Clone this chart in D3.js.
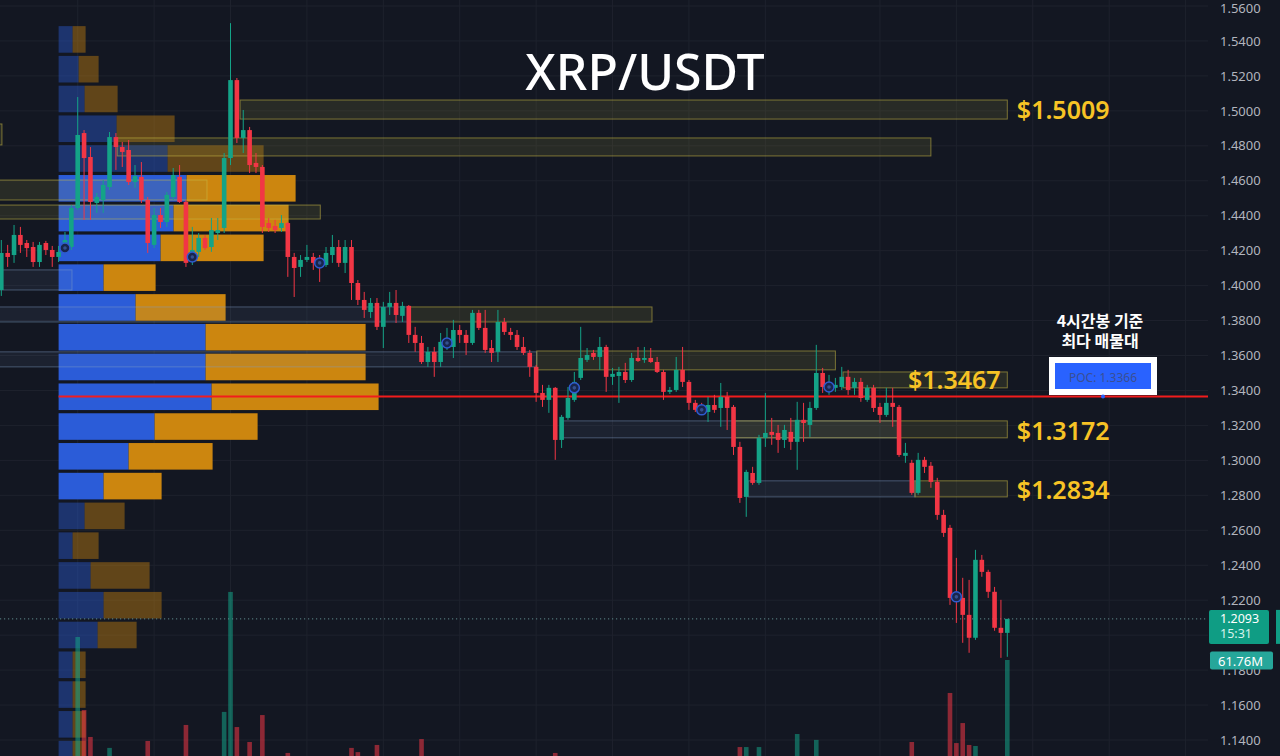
<!DOCTYPE html>
<html><head><meta charset="utf-8">
<script src="https://cdn.jsdelivr.net/npm/d3@7"></script>
<style>html,body{margin:0;padding:0;background:#131722;overflow:hidden}</style>
</head><body><svg id="c" width="1280" height="756"></svg>
<script>
// ---------- DATA ----------
const opens = [1.3975,1.4187,1.4175,1.4290,1.4244,1.4221,1.4135,1.4244,1.4204,1.4164,1.4204,1.4221,1.4444,1.4873,1.4736,1.4473,1.4490,1.4564,1.4850,1.4793,1.4776,1.4593,1.4622,1.4490,1.4233,1.4404,1.4364,1.4507,1.4622,1.4479,1.4164,1.4193,1.4273,1.4221,1.4301,1.4330,1.4730,1.5176,1.4845,1.4890,1.4702,1.4679,1.4358,1.4341,1.4330,1.4358,1.4164,1.4107,1.4147,1.4164,1.4135,1.4118,1.4175,1.4221,1.4130,1.4221,1.4015,1.3918,1.3849,1.3901,1.3764,1.3878,1.3901,1.3827,1.3884,1.3718,1.3672,1.3563,1.3621,1.3563,1.3661,1.3649,1.3746,1.3718,1.3672,1.3844,1.3758,1.3643,1.3621,1.3792,1.3735,1.3718,1.3649,1.3615,1.3535,1.3386,1.3346,1.3415,1.3117,1.3243,1.3346,1.3472,1.3575,1.3615,1.3592,1.3649,1.3478,1.3483,1.3506,1.3460,1.3586,1.3575,1.3586,1.3563,1.3506,1.3392,1.3403,1.3518,1.3449,1.3329,1.3300,1.3277,1.3317,1.3300,1.3363,1.3306,1.3077,1.2791,1.2928,1.2871,1.3129,1.3163,1.3157,1.3117,1.3163,1.3106,1.3232,1.3203,1.3300,1.3500,1.3403,1.3415,1.3420,1.3478,1.3415,1.3449,1.3346,1.3415,1.3306,1.3260,1.3329,1.3306,1.3026,1.2986,1.2814,1.3003,1.2969,1.2877,1.2688,1.2614,1.2225,1.2213,1.2116,1.1985,1.2431,1.2362,1.2248,1.2042,1.2013];
const highs = [1.4261,1.4233,1.4347,1.4336,1.4261,1.4250,1.4250,1.4256,1.4227,1.4227,1.4307,1.4461,1.5079,1.4890,1.4793,1.4530,1.4604,1.4879,1.4873,1.4822,1.4833,1.4690,1.4707,1.4507,1.4444,1.4444,1.4536,1.4673,1.4690,1.4490,1.4336,1.4301,1.4290,1.4387,1.4387,1.4759,1.5502,1.5188,1.5005,1.4908,1.4759,1.4690,1.4387,1.4376,1.4404,1.4364,1.4187,1.4175,1.4233,1.4187,1.4175,1.4221,1.4290,1.4261,1.4261,1.4261,1.4032,1.3964,1.3929,1.3929,1.3907,1.3964,1.3975,1.3907,1.3889,1.3764,1.3712,1.3649,1.3649,1.3729,1.3758,1.3804,1.3775,1.3746,1.3861,1.3861,1.3861,1.3689,1.3861,1.3815,1.3758,1.3746,1.3706,1.3632,1.3546,1.3432,1.3432,1.3420,1.3260,1.3420,1.3506,1.3764,1.3643,1.3632,1.3706,1.3661,1.3529,1.3535,1.3558,1.3615,1.3649,1.3649,1.3643,1.3592,1.3518,1.3420,1.3592,1.3649,1.3460,1.3346,1.3329,1.3363,1.3375,1.3443,1.3392,1.3317,1.3106,1.2946,1.2963,1.3146,1.3386,1.3243,1.3203,1.3203,1.3243,1.3335,1.3329,1.3335,1.3661,1.3529,1.3489,1.3472,1.3535,1.3518,1.3472,1.3472,1.3432,1.3432,1.3329,1.3415,1.3415,1.3317,1.3100,1.3003,1.3043,1.3020,1.2991,1.2900,1.2717,1.2631,1.2442,1.2328,1.2316,1.2488,1.2459,1.2374,1.2276,1.2202,1.2093];
const lows = [1.3941,1.4107,1.4130,1.4187,1.4164,1.4107,1.4107,1.4175,1.4107,1.4135,1.4193,1.4204,1.4433,1.4376,1.4376,1.4416,1.4416,1.4547,1.4662,1.4679,1.4576,1.4559,1.4473,1.4187,1.4215,1.4330,1.4336,1.4490,1.4473,1.4107,1.4118,1.4164,1.4204,1.4193,1.4261,1.4301,1.4690,1.4816,1.4759,1.4644,1.4644,1.4301,1.4307,1.4301,1.4307,1.4050,1.3935,1.4050,1.4135,1.4090,1.4021,1.4107,1.4130,1.4107,1.4072,1.3918,1.3889,1.3815,1.3815,1.3746,1.3643,1.3832,1.3786,1.3792,1.3672,1.3621,1.3552,1.3535,1.3478,1.3535,1.3632,1.3586,1.3672,1.3603,1.3661,1.3746,1.3615,1.3563,1.3563,1.3718,1.3689,1.3632,1.3603,1.3478,1.3335,1.3306,1.3272,1.3003,1.3071,1.3232,1.3335,1.3460,1.3563,1.3575,1.3518,1.3392,1.3432,1.3329,1.3443,1.3449,1.3563,1.3558,1.3558,1.3500,1.3346,1.3380,1.3392,1.3420,1.3289,1.3277,1.3272,1.3220,1.3272,1.3192,1.3174,1.3031,1.2757,1.2677,1.2860,1.2860,1.3077,1.3089,1.3043,1.3071,1.3060,1.2946,1.3106,1.3134,1.3289,1.3386,1.3375,1.3392,1.3403,1.3375,1.3375,1.3335,1.3335,1.3277,1.3214,1.3249,1.3192,1.3020,1.2986,1.2803,1.2803,1.2928,1.2843,1.2660,1.2562,1.2173,1.2070,1.1956,1.1899,1.1973,1.2334,1.2213,1.2025,1.1870,1.1876];
const closes = [1.4187,1.4164,1.4290,1.4233,1.4215,1.4135,1.4233,1.4204,1.4164,1.4193,1.4261,1.4444,1.4862,1.4730,1.4479,1.4507,1.4576,1.4850,1.4793,1.4765,1.4593,1.4627,1.4490,1.4244,1.4404,1.4364,1.4519,1.4633,1.4479,1.4130,1.4204,1.4273,1.4215,1.4318,1.4318,1.4730,1.5176,1.4845,1.4890,1.4690,1.4679,1.4336,1.4330,1.4318,1.4358,1.4164,1.4101,1.4147,1.4164,1.4130,1.4118,1.4187,1.4221,1.4130,1.4221,1.4015,1.3918,1.3861,1.3901,1.3764,1.3878,1.3901,1.3832,1.3884,1.3718,1.3672,1.3563,1.3621,1.3563,1.3678,1.3689,1.3746,1.3718,1.3672,1.3844,1.3758,1.3632,1.3615,1.3792,1.3735,1.3718,1.3649,1.3615,1.3535,1.3386,1.3346,1.3415,1.3117,1.3249,1.3357,1.3449,1.3586,1.3603,1.3592,1.3649,1.3478,1.3495,1.3506,1.3460,1.3586,1.3569,1.3586,1.3563,1.3506,1.3392,1.3403,1.3518,1.3449,1.3329,1.3289,1.3283,1.3317,1.3289,1.3363,1.3300,1.3077,1.2785,1.2934,1.2871,1.3129,1.3157,1.3146,1.3117,1.3174,1.3106,1.3232,1.3214,1.3300,1.3500,1.3420,1.3432,1.3432,1.3478,1.3403,1.3449,1.3357,1.3415,1.3300,1.3260,1.3329,1.3306,1.3031,1.3043,1.2814,1.3003,1.2963,1.2877,1.2688,1.2585,1.2213,1.2202,1.2116,1.1985,1.2431,1.2362,1.2248,1.2042,1.2013,1.2093];
const volumes = [9,7,8,6,5,7,8,6,7,9,11,14,72.7,38,25.2,12,10,20,11,8,13,7,10,23.3,12,8,9,10,12,30.9,14,9,7,10,8,37.1,94.1,29.9,14,22.8,12,35.6,9,7,8,17.6,15,9,7,8,10,9,8,10,9,20,18,11,8,21.4,14,8,10,7,15,12,24.2,8,10,11,7,12,6,8,13,7,12,6,14,7,5,8,7,10,15,8,9,17.6,12,10,9,14,6,5,9,13,6,8,7,11,5,6,5,8,13,5,10,11,13,7,6,8,6,12,10,15,20.4,20.4,10,20.4,14,8,9,8,10,26.6,9,12,23.8,10,7,6,9,8,6,9,7,10,8,9,10,16,9,22.8,13,8,11,14,13,46.1,22.3,31.8,21.4,20.9,12,13,15,14,61.76];

const priceTicks = [1.56,1.54,1.52,1.50,1.48,1.46,1.44,1.42,1.40,1.38,1.36,1.34,1.32,1.30,1.28,1.26,1.24,1.22,1.20,1.18,1.16,1.14];
const hiddenTickLabels = [1.20]; // covered by the last-price tag in the original
const timeGridIdx = [12,24,36,48,60,72,84,96,108,120,138,150,162,174,186];

const profileTop = 1.5494, profileBin = 0.01704;
const profileBuy  = [14,20,26,58,109,128,115,102,45,77,147,147,153,96,70,45,26,14,32,45,39,14,14,14,14];
const profileSell = [13,20,33,58,96,109,115,103,52,90,160,160,167,103,84,58,40,26,59,58,39,13,13,13,13];
const valueAreaRows = [5,6,7,8,9,10,11,12,13,14,15];

const zoneFrom = [37.5,-1,18.2,-1,-1,-1,-1,64.2,-1,84.1,132.2,88.2,115.2,117.3,143.5];
const zoneTo   = [158,0.1,146,32.3,50.1,11.1,64.2,102.2,84.1,131,158,141.2,158,143.5,158];
const zoneHi   = [1.5062,1.4925,1.4845,1.4604,1.4461,1.4090,1.3878,1.3878,1.3621,1.3626,1.3506,1.3226,1.3226,1.2883,1.2883];
const zoneLo   = [1.4953,1.4805,1.4742,1.4490,1.4381,1.3975,1.3792,1.3792,1.3535,1.3518,1.3415,1.3129,1.3129,1.2791,1.2791];
const zoneKind = ["y","y","y","y","y","b","b","y","b","y","y","b","y","b","y"];

const levelText  = ["$1.5009","$1.3467","$1.3172","$1.2834"];
const levelPrice = [1.5009,1.3467,1.3172,1.2834];
const levelAt    = [159.5,142.4,159.5,159.5];

const markerIdx   = [10,30,50,70,90,110,130,150];
const markerPrice = [1.4215,1.4164,1.4130,1.3672,1.3415,1.3289,1.3420,1.2219];

const annotationLines = ["4시간봉 기준", "최다 매물대"];
const pocPrice = 1.3366, lastPrice = 1.2093, lastVolume = 61.76, countdown = "15:31";

// ---------- DRAW ----------
const W = 1280, H = 756, plotR = 1208;
const UP = "#14a387", DOWN = "#f23645";
const svg = d3.select("#c");
const x = d3.scaleLinear().domain([0, 158]).range([1.3, 1007.3]);
const y = d3.scaleLinear().domain([1.56, 1.14]).range([6, 740]);
const vy = d3.scaleLinear().domain([0, lastVolume]).range([790, 660]);
const pw = d3.scaleLinear().domain([0, 100]).range([0, 100]);
const bodyW = 4.6;

svg.append("rect").attr("width", W).attr("height", H).attr("fill", "#131722");
svg.append("defs").append("clipPath").attr("id", "plot")
  .append("rect").attr("width", plotR).attr("height", H);
const g = svg.append("g").attr("clip-path", "url(#plot)");

// grid
g.selectAll("line.gh").data(priceTicks).join("line").attr("class", "gh")
  .attr("x1", 0).attr("x2", plotR).attr("y1", d => y(d)).attr("y2", d => y(d))
  .attr("stroke", "#1e222d").attr("stroke-width", 1);
g.selectAll("line.gv").data(timeGridIdx).join("line").attr("class", "gv")
  .attr("y1", 0).attr("y2", H).attr("x1", d => x(d)).attr("x2", d => x(d))
  .attr("stroke", "#1e222d").attr("stroke-width", 1);

// volume profile
const px0 = x(9);
const rowY = i => y(profileTop - i * profileBin);
const rowH = y(profileTop - profileBin) - y(profileTop);
const prof = g.append("g");
profileBuy.forEach((b, i) => {
  const inVA = valueAreaRows.includes(i);
  const op = inVA ? 1 : 0.42;
  prof.append("rect").attr("x", px0).attr("y", rowY(i) + 1.6).attr("width", pw(b)).attr("height", rowH - 3.2)
    .attr("fill", "#2b5cd8").attr("opacity", op);
  prof.append("rect").attr("x", px0 + pw(b)).attr("y", rowY(i) + 1.6).attr("width", pw(profileSell[i])).attr("height", rowH - 3.2)
    .attr("fill", "#cc860f").attr("opacity", op);
});

// zones
const zg = g.append("g");
zoneFrom.forEach((f, i) => {
  const yel = zoneKind[i] === "y";
  zg.append("rect").attr("x", x(f)).attr("y", y(zoneHi[i]))
    .attr("width", x(zoneTo[i]) - x(f)).attr("height", y(zoneLo[i]) - y(zoneHi[i]))
    .attr("fill", yel ? "rgba(150,140,60,0.17)" : "rgba(110,140,180,0.10)")
    .attr("stroke", yel ? "rgba(200,185,70,0.55)" : "rgba(130,160,200,0.45)")
    .attr("stroke-width", 1);
});

// volume bars
g.append("g").selectAll("rect").data(volumes).join("rect")
  .attr("x", (d, i) => x(i) - bodyW / 2).attr("width", bodyW)
  .attr("y", d => vy(d)).attr("height", d => 790 - vy(d))
  .attr("fill", (d, i) => closes[i] >= opens[i] ? UP : DOWN).attr("opacity", 0.55);

// POC line
g.append("line").attr("x1", px0).attr("x2", plotR).attr("y1", y(pocPrice)).attr("y2", y(pocPrice))
  .attr("stroke", "#f21c1c").attr("stroke-width", 2);

// last price dotted line
g.append("line").attr("x1", 0).attr("x2", plotR).attr("y1", y(lastPrice)).attr("y2", y(lastPrice))
  .attr("stroke", "#5f8a8c").attr("stroke-width", 1).attr("stroke-dasharray", "1.2,2.8");

// candles
const cg = g.append("g");
opens.forEach((o, i) => {
  const c = closes[i], up = c >= o, col = up ? UP : DOWN;
  cg.append("line").attr("x1", x(i)).attr("x2", x(i)).attr("y1", y(highs[i])).attr("y2", y(lows[i]))
    .attr("stroke", col).attr("stroke-width", 1);
  const top = y(Math.max(o, c)), bot = y(Math.min(o, c));
  cg.append("rect").attr("x", x(i) - bodyW / 2).attr("width", bodyW)
    .attr("y", top).attr("height", Math.max(1, bot - top)).attr("fill", col);
});

// markers
markerIdx.forEach((m, k) => {
  cg.append("circle").attr("cx", x(m)).attr("cy", y(markerPrice[k])).attr("r", 5)
    .attr("fill", "#18254d").attr("stroke", "#2f5bd0").attr("stroke-width", 1.5);
  cg.append("circle").attr("cx", x(m)).attr("cy", y(markerPrice[k])).attr("r", 1.8).attr("fill", "#34508f");
});

// title
svg.append("text").attr("x", 645).attr("y", 90).attr("text-anchor", "middle")
  .attr("font-family", "Noto Sans, sans-serif").attr("font-size", 50).attr("font-weight", 500)
  .attr("fill", "#ffffff").text("XRP/USDT");

// level labels
levelText.forEach((t, i) => {
  svg.append("text").attr("x", x(levelAt[i])).attr("y", y(levelPrice[i]))
    .attr("dominant-baseline", "central").attr("font-family", "Noto Sans, sans-serif")
    .attr("font-size", 25).attr("font-weight", 600).attr("fill", "#f7c325").text(t);
});

// POC annotation (one wrapped text block)
const ann = svg.append("g");
const at = ann.append("text").attr("x", 1100).attr("y", 327).attr("text-anchor", "middle")
  .attr("font-family", "Noto Sans CJK KR, sans-serif").attr("font-weight", 700).attr("font-size", 16)
  .attr("fill", "#ffffff");
annotationLines.forEach((t, i) => {
  at.append("tspan").attr("x", 1100).attr("dy", i === 0 ? 0 : 20).text(t);
});
ann.append("rect").attr("x", 1049).attr("y", 357).attr("width", 108).attr("height", 38).attr("fill", "#ffffff");
ann.append("rect").attr("x", 1055).attr("y", 363).attr("width", 96).attr("height", 26).attr("fill", "#2962ff");
ann.append("text").attr("x", 1103).attr("y", 377).attr("text-anchor", "middle").attr("dominant-baseline", "central")
  .attr("font-family", "Noto Sans, sans-serif").attr("font-size", 12).attr("fill", "#3a4f94")
  .text("POC: " + pocPrice.toFixed(4));
ann.append("circle").attr("cx", 1103).attr("cy", y(pocPrice)).attr("r", 2).attr("fill", "#2962ff");

// price axis
const axis = d3.axisRight(y).tickValues(priceTicks)
  .tickFormat(d => hiddenTickLabels.includes(d) ? "" : d3.format(".4f")(d))
  .tickSize(0).tickPadding(0);
const ag = svg.append("g").attr("transform", "translate(1220,0)").call(axis);
ag.select(".domain").remove();
ag.selectAll("text").attr("fill", "#b2b5be").attr("font-size", 13).attr("font-family", "Noto Sans, sans-serif")
  .attr("dy", (d, i) => i === 0 ? "0.5em" : "0.32em");

// price tag
const tag = svg.append("g");
tag.append("rect").attr("x", 1209).attr("y", y(lastPrice) - 9).attr("width", 60).attr("height", 34).attr("rx", 2).attr("fill", "#0f9d84");
tag.append("rect").attr("x", 1276).attr("y", y(lastPrice) - 9).attr("width", 6).attr("height", 34).attr("fill", "#0f9d84");
tag.append("text").attr("x", 1220).attr("y", y(lastPrice) - 0.5).attr("dominant-baseline", "central")
  .attr("font-family", "Noto Sans, sans-serif").attr("font-size", 12.5).attr("fill", "#ffffff").text(lastPrice.toFixed(4));
tag.append("text").attr("x", 1220).attr("y", y(lastPrice) + 15).attr("dominant-baseline", "central")
  .attr("font-family", "Noto Sans, sans-serif").attr("font-size", 12.5).attr("fill", "#d8f2ec").text(countdown);
tag.append("rect").attr("x", 1210).attr("y", vy(lastVolume) - 8.5).attr("width", 63).attr("height", 18).attr("rx", 2).attr("fill", "#26a69a");
tag.append("text").attr("x", 1218).attr("y", vy(lastVolume) + 0.5).attr("dominant-baseline", "central")
  .attr("font-family", "Noto Sans, sans-serif").attr("font-size", 13).attr("fill", "#ffffff").text(lastVolume.toFixed(2) + "M");
</script></body></html>
